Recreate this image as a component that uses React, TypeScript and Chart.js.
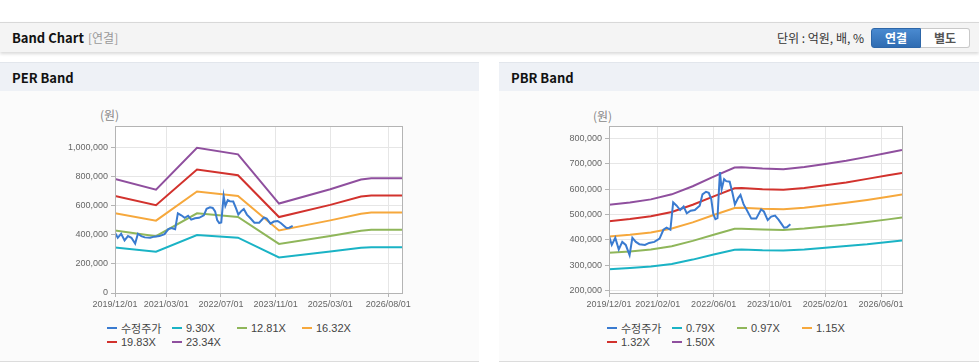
import React, { useEffect, useRef } from 'react';
import { Chart, registerables } from 'chart.js';

Chart.register(...registerables);

// ---------- data (x = months since 2019/12/01) ----------
const priceMonths = [0, 0.8, 1.8, 2.8, 3.8, 4.8, 5.9, 6.7, 7.7, 8.7, 10.3, 11.5, 13.0, 14.5, 15.6, 16.5, 17.6, 18.4, 19.4, 20.4, 21.4, 22.3, 23.4, 24.6, 26.0, 26.8, 27.8, 28.6, 29.3, 29.9, 30.5, 31.1, 31.8, 32.3, 33.0, 33.6, 34.6, 35.4, 36.1, 37.0, 37.7, 38.6, 39.5, 40.8, 42.2, 43.6, 44.4, 45.5, 46.5, 47.6, 48.6, 49.5, 50.2, 51.0, 52.0];
const priceValues = [415000, 380000, 408000, 362000, 392000, 380000, 340000, 408000, 392000, 383000, 380000, 388000, 392000, 405000, 440000, 448000, 440000, 548000, 535000, 518000, 532000, 505000, 515000, 518000, 535000, 580000, 590000, 586000, 562000, 502000, 482000, 486000, 668000, 600000, 640000, 632000, 630000, 585000, 540000, 565000, 578000, 540000, 518000, 484000, 484000, 520000, 512000, 478000, 492000, 496000, 480000, 462000, 448000, 450000, 462000];

const perBandMonths = [0, 12, 24, 36, 48, 63, 72, 75, 84];
const perBand930 = [313000, 284000, 399000, 381000, 245000, 285000, 311000, 315000, 315000];
const perBand1281 = [431000, 391000, 549000, 524000, 338000, 392000, 429000, 436000, 436000];
const perBand1632 = [550000, 498000, 699000, 668000, 431000, 500000, 546000, 554000, 554000];
const perBand1983 = [668000, 605000, 850000, 811000, 523000, 607000, 664000, 671000, 671000];
const perBand2334 = [786000, 712000, 1000000, 955000, 616000, 715000, 781000, 790000, 790000];

const pbrBandMonths = [0, 6, 12, 18, 24, 30, 36, 38, 44, 50, 56, 62, 68, 74, 80, 84];
const pbrBand079 = [284000, 289000, 295000, 305000, 322000, 342000, 361000, 362000, 359000, 358000, 362000, 369000, 376000, 383000, 392000, 398000];
const pbrBand097 = [349000, 354000, 362000, 375000, 396000, 420000, 444000, 444000, 441000, 439000, 445000, 453000, 461000, 471000, 481000, 488000];
const pbrBand115 = [413000, 420000, 429000, 445000, 469000, 498000, 526000, 527000, 523000, 521000, 527000, 537000, 547000, 558000, 570000, 579000];
const pbrBand132 = [474000, 482000, 493000, 510000, 539000, 572000, 604000, 605000, 600000, 598000, 605000, 616000, 627000, 641000, 655000, 664000];
const pbrBand150 = [539000, 548000, 560000, 580000, 612000, 650000, 686000, 687000, 682000, 679000, 688000, 700000, 713000, 728000, 744000, 755000];

const perLabels = ['수정주가', '9.30X', '12.81X', '16.32X', '19.83X', '23.34X'];
const pbrLabels = ['수정주가', '0.79X', '0.97X', '1.15X', '1.32X', '1.50X'];

const perTickMonths = [0, 15, 31, 47, 63, 80];
const perTickLabels = ['2019/12/01', '2021/03/01', '2022/07/01', '2023/11/01', '2025/03/01', '2026/08/01'];
const pbrTickMonths = [0, 14, 30, 46, 62, 78];
const pbrTickLabels = ['2019/12/01', '2021/02/01', '2022/06/01', '2023/10/01', '2025/02/01', '2026/06/01'];

const perYTicks = [0, 200000, 400000, 600000, 800000, 1000000];
const pbrYTicks = [200000, 300000, 400000, 500000, 600000, 700000, 800000];

const seriesColors = ['#3a7bd0', '#1ab3c5', '#8fb65a', '#f6a83c', '#d2322d', '#8f4f9e'];

// ---------- components ----------
type Series = { label: string; color: string; months: number[]; values: number[] };
type Box = { left: number; top: number; width: number; height: number };
type Area = { left: number; right: number; top: number; bottom: number };

const TICK_FONT = "'Liberation Sans', Arial, sans-serif";
const UI_FONT = "'Noto Sans CJK KR', 'Noto Sans', sans-serif";

function BandChart(props: {
  box: Box; area: Area; xTicks: number[]; xLabels: string[];
  yMin: number; yMax: number; yTicks: number[]; series: Series[];
}) {
  const ref = useRef<HTMLCanvasElement>(null);
  useEffect(() => {
    const { box, area, xTicks, xLabels, yMin, yMax, yTicks, series } = props;
    const frame = {
      id: 'areaFrame',
      beforeDraw(chart: any) {
        const { ctx, chartArea: a } = chart;
        ctx.save();
        ctx.fillStyle = '#ffffff';
        ctx.fillRect(a.left, a.top, a.right - a.left, a.bottom - a.top);
        ctx.restore();
      },
      afterDraw(chart: any) {
        const { ctx, chartArea: a } = chart;
        ctx.save();
        ctx.strokeStyle = '#b4b4b4';
        ctx.lineWidth = 1;
        ctx.strokeRect(Math.round(a.left) + 0.5, Math.round(a.top) + 0.5, Math.round(a.right - a.left), Math.round(a.bottom - a.top));
        ctx.restore();
      },
    };
    const chart = new Chart(ref.current!, {
      type: 'line',
      data: {
        datasets: series.map((s) => ({
          label: s.label,
          data: s.months.map((m, i) => ({ x: m, y: s.values[i] })),
          borderColor: s.color,
          backgroundColor: s.color,
          borderWidth: 2,
          pointRadius: 0,
          tension: 0,
          fill: false,
        })),
      },
      options: {
        animation: false,
        responsive: false,
        maintainAspectRatio: false,
        events: [],
        layout: { padding: { left: 0, top: area.top, right: box.width - area.right, bottom: 0 } },
        plugins: { legend: { display: false }, tooltip: { enabled: false } },
        scales: {
          x: {
            type: 'linear',
            min: 0,
            max: 84,
            afterBuildTicks: (s: any) => { s.ticks = xTicks.map((v) => ({ value: v })); },
            afterFit: (s: any) => { s.height = box.height - area.bottom; },
            ticks: {
              autoSkip: false,
              maxRotation: 0,
              padding: 2,
              color: '#666',
              font: { family: TICK_FONT, size: 9 },
              callback: (_v: any, i: number) => xLabels[i],
            },
            grid: { color: '#e6e6e6', tickLength: 4, tickColor: '#b4b4b4' },
            border: { color: '#b4b4b4' },
          },
          y: {
            type: 'linear',
            min: yMin,
            max: yMax,
            afterBuildTicks: (s: any) => { s.ticks = yTicks.map((v) => ({ value: v })); },
            afterFit: (s: any) => { s.width = area.left; },
            ticks: {
              padding: 3,
              color: '#666',
              font: { family: TICK_FONT, size: 9 },
              callback: (v: any) => Number(v).toLocaleString('en-US'),
            },
            grid: { color: '#e6e6e6', tickLength: 4, tickColor: '#b4b4b4' },
            border: { color: '#b4b4b4' },
          },
        },
      },
      plugins: [frame],
    } as any);
    return () => chart.destroy();
  }, []);
  const { box } = props;
  return (
    <canvas
      ref={ref}
      width={box.width}
      height={box.height}
      style={{ position: 'absolute', left: box.left, top: box.top, width: box.width, height: box.height }}
    />
  );
}

function Legend({ left, top, series }: { left: number; top: number; series: Series[] }) {
  return (
    <>
      {series.map((s, i) => (
        <div
          key={s.label}
          style={{
            position: 'absolute',
            left: left + (i % 4) * 65,
            top: top + Math.floor(i / 4) * 14,
            height: 14,
            display: 'flex',
            alignItems: 'center',
            whiteSpace: 'nowrap',
            fontFamily: "'Liberation Sans', 'Noto Sans CJK KR', sans-serif",
            fontSize: 11,
            color: '#444',
          }}
        >
          <span style={{ display: 'inline-block', width: 10, height: 2, background: s.color, marginRight: 4 }} />
          <span>{s.label}</span>
        </div>
      ))}
    </>
  );
}

function Panel({ left, width, title, children }: { left: number; width: number; title: string; children?: any }) {
  return (
    <>
      <div style={{ position: 'absolute', left, top: 62, width, height: 299, background: '#fbfbfb', borderBottom: '1px solid #dcdcdc' }} />
      <div
        style={{
          position: 'absolute', left, top: 62, width, height: 29, background: '#eef1f6',
          borderTop: '1px solid #e2e6ec', boxSizing: 'border-box',
        }}
      >
        <span style={{ position: 'absolute', left: 12, top: 0, lineHeight: '29px', fontSize: 13, fontWeight: 700, color: '#111', fontFamily: UI_FONT }}>
          {title}
        </span>
      </div>
      {children}
    </>
  );
}

function makeSeries(labels: string[], bandMonths: number[], bands: number[][]): Series[] {
  const out: Series[] = [{ label: labels[0], color: seriesColors[0], months: priceMonths, values: priceValues }];
  bands.forEach((b, i) => out.push({ label: labels[i + 1], color: seriesColors[i + 1], months: bandMonths, values: b }));
  return out;
}

export default function App() {
  const perSeries = makeSeries(perLabels, perBandMonths, [perBand930, perBand1281, perBand1632, perBand1983, perBand2334]);
  const pbrSeries = makeSeries(pbrLabels, pbrBandMonths, [pbrBand079, pbrBand097, pbrBand115, pbrBand132, pbrBand150]);

  return (
    <div style={{ position: 'absolute', left: 0, top: 0, width: 979, height: 362, background: '#fff', overflow: 'hidden', fontFamily: UI_FONT }}>
      {/* header bar */}
      <div
        style={{
          position: 'absolute', left: 0, top: 22, width: 979, height: 30, boxSizing: 'border-box',
          background: '#f4f4f4', borderTop: '1px solid #d8d8d8', boxShadow: '0 2px 3px rgba(0,0,0,0.15)',
        }}
      >
        <span style={{ position: 'absolute', left: 12, top: 0, lineHeight: '29px', fontSize: 13, fontWeight: 700, color: '#111' }}>Band Chart</span>
        <span style={{ position: 'absolute', left: 88, top: 0, lineHeight: '29px', fontSize: 12, color: '#999' }}>[연결]</span>
        <span style={{ position: 'absolute', right: 115, top: 0, lineHeight: '29px', fontSize: 12, color: '#333' }}>단위 : 억원, 배, %</span>
        <div
          style={{
            position: 'absolute', left: 871, top: 5, width: 50, height: 20, boxSizing: 'border-box',
            background: 'linear-gradient(#4a8ad0, #2f6cb2)', border: '1px solid #2d66a8', borderRadius: '3px 0 0 3px',
            color: '#fff', fontSize: 12, fontWeight: 700, textAlign: 'center', lineHeight: '18px',
          }}
        >연결</div>
        <div
          style={{
            position: 'absolute', left: 921, top: 5, width: 49, height: 20, boxSizing: 'border-box',
            background: '#fff', border: '1px solid #c9c9c9', borderLeft: 'none', borderRadius: '0 3px 3px 0',
            color: '#555', fontSize: 12, fontWeight: 700, textAlign: 'center', lineHeight: '18px',
          }}
        >별도</div>
      </div>

      <Panel left={0} width={479} title="PER Band">
        <span style={{ position: 'absolute', left: 100, top: 107, fontSize: 12, color: '#888', lineHeight: '16px' }}>(원)</span>
        <BandChart
          box={{ left: 60, top: 110, width: 365, height: 210 }}
          area={{ left: 55, right: 342, top: 16, bottom: 183 }}
          xTicks={perTickMonths}
          xLabels={perTickLabels}
          yMin={0}
          yMax={1150000}
          yTicks={perYTicks}
          series={perSeries}
        />
        <Legend left={107} top={321} series={perSeries} />
      </Panel>

      <Panel left={499} width={480} title="PBR Band">
        <span style={{ position: 'absolute', left: 593, top: 108, fontSize: 12, color: '#888', lineHeight: '16px' }}>(원)</span>
        <BandChart
          box={{ left: 555, top: 110, width: 370, height: 210 }}
          area={{ left: 54, right: 347, top: 16, bottom: 183 }}
          xTicks={pbrTickMonths}
          xLabels={pbrTickLabels}
          yMin={190000}
          yMax={850000}
          yTicks={pbrYTicks}
          series={pbrSeries}
        />
        <Legend left={607} top={321} series={pbrSeries} />
      </Panel>
    </div>
  );
}
